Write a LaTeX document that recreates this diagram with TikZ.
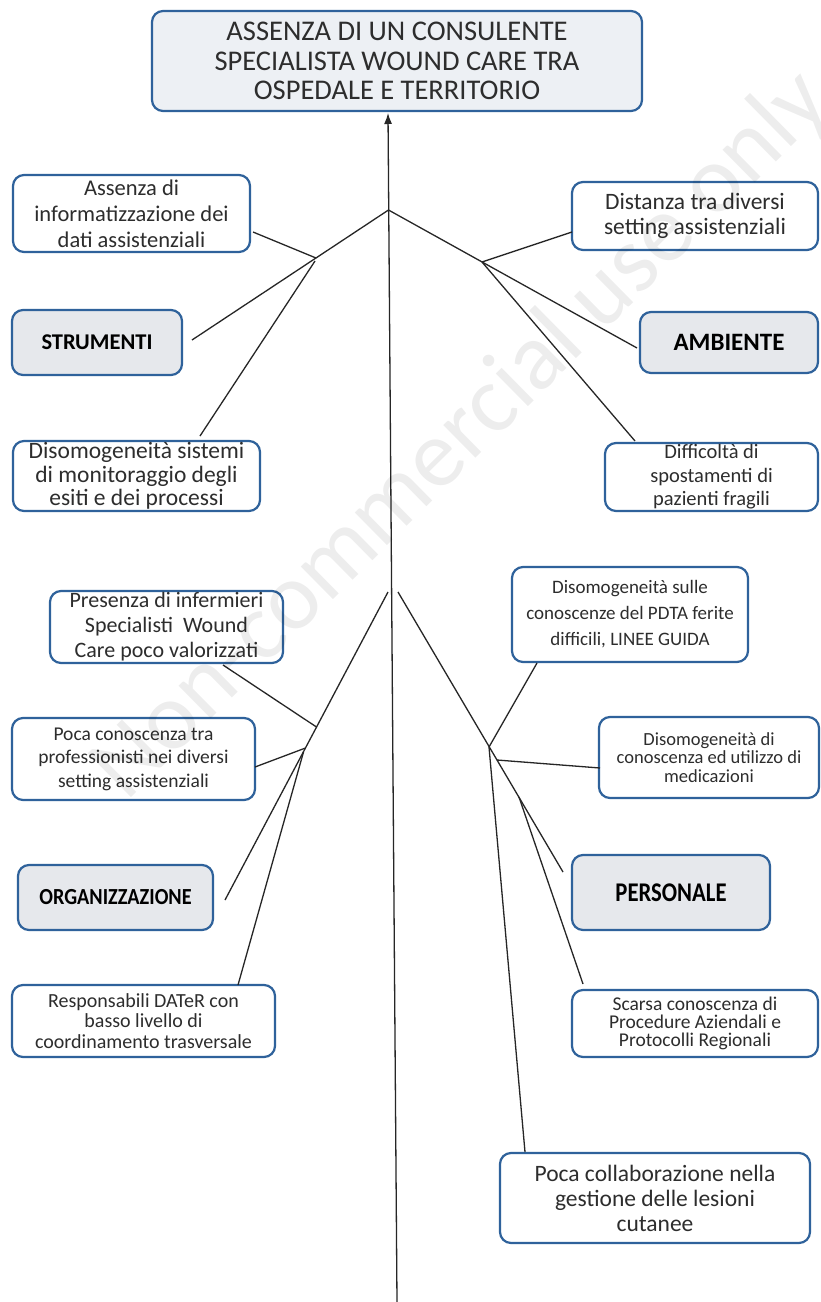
\documentclass[tikz,border=0pt]{standalone}
\usepackage{fontspec}
\setmainfont{Carlito}
\usetikzlibrary{arrows.meta,calc}
\definecolor{bblue}{RGB}{47,98,155}
\definecolor{gfill}{RGB}{230,232,236}
\definecolor{tfill}{RGB}{237,240,244}
\definecolor{tgray}{RGB}{45,45,45}
\begin{document}
\begin{tikzpicture}[x=1pt,y=-1pt,
  box/.style={draw=bblue,line width=2.2pt,rounded corners=11pt,fill=white,text=tgray,align=center,inner sep=0pt},
  catbox/.style={box,fill=gfill,text=black},
  sz/.style n args={2}{font=\fontsize{#1}{#2}\selectfont},
  bsz/.style={font=\fontsize{#1}{#1}\selectfont\bfseries},
  wh/.style n args={2}{minimum width=#1,minimum height=#2},
  conn/.style={line width=1.3pt,draw=black!85}]
\useasboundingbox (0,0) rectangle (821,1302);
\fill[white] (0,0) rectangle (821,1302);

% boxes
\node[box,fill=tfill,wh={490}{100},sz={28.5}{29.5}] (title) at (397,61) {ASSENZA DI UN CONSULENTE\\SPECIALISTA WOUND CARE TRA\\OSPEDALE E TERRITORIO};

\node[box,wh={237}{77},sz={22.5}{26}] (assenza) at (131.5,213.5) {Assenza di\\informatizzazione dei\\dati assistenziali};
\node[catbox,wh={170}{65},bsz=22.5] (strumenti) at (97,342.5) {STRUMENTI};
\node[box,wh={247}{70},sz={23.5}{23.5}] (disom1) at (136.5,476) {Disomogeneità sistemi\\di monitoraggio degli\\esiti e dei processi};

\node[box,wh={246}{68},sz={23.5}{25}] (distanza) at (695,216) {Distanza tra diversi\\setting assistenziali};
\node[catbox,wh={178}{61},bsz=25] (ambiente) at (729,342.5) {AMBIENTE};
\node[box,wh={213}{68},sz={20.5}{23.5}] (difficolta) at (711.5,477) {Difficoltà di\\spostamenti di\\pazienti fragili};

\node[box,wh={233}{72},sz={22}{25}] (presenza) at (166.5,627) {Presenza di infermieri\\Specialisti~ Wound\\Care poco valorizzati};
\node[box,wh={243}{82},sz={19.5}{23.5}] (poca) at (133.5,759) {Poca conoscenza tra\\professionisti nei diversi\\setting assistenziali};
\node[catbox,wh={195}{65},bsz=23] (organizz) at (115.5,897.5) {\scalebox{0.88}[1]{ORGANIZZAZIONE}};
\node[box,wh={263}{72},sz={20}{20.5}] (respons) at (143.5,1021) {Responsabili DATeR con\\basso livello di\\coordinamento trasversale};

\node[box,wh={236}{95},sz={19}{26}] (disom2) at (630,614.5) {Disomogeneità sulle\\conoscenze del PDTA ferite\\difficili, LINEE GUIDA};
\node[box,wh={220}{81},sz={18.5}{18.5}] (disom3) at (709,757.5) {Disomogeneità di\\conoscenza ed utilizzo di\\medicazioni};
\node[catbox,wh={198}{75},bsz=27] (personale) at (671,892.5) {\scalebox{0.84}[1]{PERSONALE}};
\node[box,wh={246}{67},sz={19.5}{18}] (scarsa) at (695,1023.5) {Scarsa conoscenza di\\Procedure Aziendali e\\Protocolli Regionali};
\node[box,wh={310}{90},sz={23.5}{25}] (pocacoll) at (655,1198) {Poca collaborazione nella\\gestione delle lesioni\\cutanee};

% coordinates
\coordinate (spinebot) at (397,1302);
\coordinate (spinetop) at (388,113);
\coordinate (hubT) at (388.5,210);
\coordinate (sEnd) at (192,340);
\coordinate (jTL) at (316,258);
\coordinate (jTLb) at (315,261);
\coordinate (aEnd) at (253,232);
\coordinate (dEnd) at (200,436);
\coordinate (ambEnd) at (637,348);
\coordinate (jTR) at (482,262);
\coordinate (distEnd) at (572,232);
\coordinate (diffEnd) at (635,441);

\coordinate (hubBL) at (388,592);
\coordinate (orgEnd) at (225,900);
\coordinate (jBL1) at (316.5,727);
\coordinate (jBL2) at (305.5,748);
\coordinate (jBL3) at (303.5,752);
\coordinate (presEnd) at (223,665);
\coordinate (pocaEnd) at (255,767);
\coordinate (respEnd) at (238,985);

\coordinate (hubBR) at (398,592);
\coordinate (persEnd) at (563,872);
\coordinate (jBR1) at (489,747);
\coordinate (jBR2) at (497,760);
\coordinate (jBR3) at (519,797);
\coordinate (dis2End) at (537,663);
\coordinate (dis3End) at (600,768);
\coordinate (scarEnd) at (583,984);
\coordinate (collEnd) at (525,1152);

% spine
\draw[conn,-{Latex[length=11pt,width=8pt]}] (spinebot) -- (spinetop);

% top-left
\draw[conn] (hubT) -- (sEnd);
\draw[conn] (aEnd) -- (jTL);
\draw[conn] (jTLb) -- (dEnd);
% top-right
\draw[conn] (hubT) -- (ambEnd);
\draw[conn] (jTR) -- (distEnd);
\draw[conn] (jTR) -- (diffEnd);
% bottom-left
\draw[conn] (hubBL) -- (orgEnd);
\draw[conn] (presEnd) -- (jBL1);
\draw[conn] (pocaEnd) -- (jBL2);
\draw[conn] (jBL3) -- (respEnd);
% bottom-right
\draw[conn] (hubBR) -- (persEnd);
\draw[conn] (dis2End) -- (jBR1);
\draw[conn] (jBR2) -- (dis3End);
\draw[conn] (jBR3) -- (scarEnd);
\draw[conn] (jBR1) -- (collEnd);

% watermark
\node[rotate=44.6,text=black,text opacity=0.07,font=\fontsize{96}{96}\selectfont,inner sep=0pt] (wm) at (462,436) {Non-commercial use only};
\end{tikzpicture}
\end{document}
